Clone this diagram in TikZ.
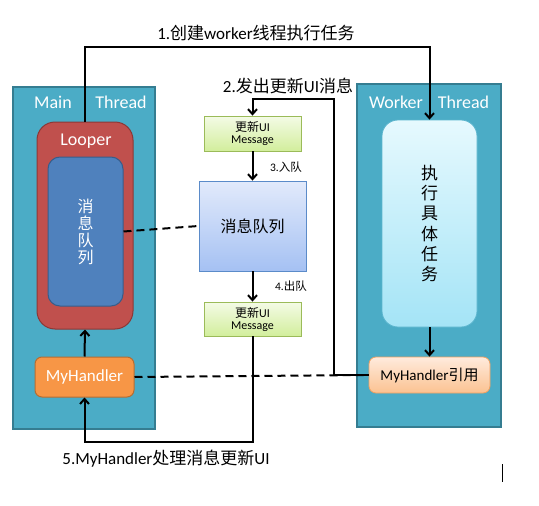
\documentclass[tikz,border=0pt]{standalone}
\usepackage{fontspec}
\setmainfont{Carlito}
\newfontfamily\cjk{Noto Sans CJK SC}
\usetikzlibrary{arrows.meta,calc}
\definecolor{threadfill}{HTML}{4BACC6}
\definecolor{threaddraw}{HTML}{357D91}
\definecolor{loopfill}{HTML}{C0504D}
\definecolor{loopdraw}{HTML}{8C3836}
\definecolor{qfill}{HTML}{4F81BD}
\definecolor{qdraw}{HTML}{385D8A}
\definecolor{hfill}{HTML}{F79646}
\definecolor{hdraw}{HTML}{B66D31}
\definecolor{msgtop}{HTML}{F4FBE6}
\definecolor{msgbot}{HTML}{D2EE9C}
\definecolor{msgdraw}{HTML}{9BBB59}
\definecolor{queuetop}{HTML}{E2EAFB}
\definecolor{queuebot}{HTML}{A5C1F3}
\definecolor{queuedraw}{HTML}{5B8BC9}
\definecolor{wtop}{HTML}{E6F9FE}
\definecolor{wbot}{HTML}{A4E4F6}
\definecolor{wdraw}{HTML}{5BB5CE}
\definecolor{reftop}{HTML}{FFEBDD}
\definecolor{refbot}{HTML}{FBC291}
\definecolor{refdraw}{HTML}{F0A060}
\begin{document}
\begin{tikzpicture}[x=1pt,y=-1pt,
  sz/.style 2 args={minimum width=#1pt,minimum height=#2pt,inner sep=0pt},
  threadbox/.style={draw=threaddraw,fill=threadfill,line width=1.2pt},
  looperbox/.style={draw=loopdraw,fill=loopfill,line width=1pt,rounded corners=18pt},
  innerq/.style={draw=qdraw,fill=qfill,line width=1pt,rounded corners=12pt},
  handlerbox/.style={draw=hdraw,fill=hfill,line width=1pt,rounded corners=7pt},
  msgbox/.style={draw=msgdraw,top color=msgtop,bottom color=msgbot,line width=0.8pt,align=center,font=\fontsize{12}{13}\selectfont},
  queuebox/.style={draw=queuedraw,top color=queuetop,bottom color=queuebot,line width=0.8pt},
  taskbox/.style={draw=wdraw,top color=wtop,bottom color=wbot,line width=0.8pt,rounded corners=16pt},
  refbox/.style={draw=refdraw,top color=reftop,bottom color=refbot,line width=0.8pt,rounded corners=7pt},
  whitelbl/.style={text=white,inner sep=0pt,font=\fontsize{18}{20}\selectfont},
  steplbl/.style={inner sep=0pt,font=\fontsize{17}{19}\selectfont},
  smalllbl/.style={inner sep=0pt,font=\fontsize{11.5}{13}\selectfont},
  arr/.style={line width=2pt,-{Straight Barb[length=5pt,width=9pt]}},
  dsh/.style={line width=2pt,dash pattern=on 8pt off 5pt}]
\useasboundingbox (0,0) rectangle (539,506);
% outer thread boxes
\node[threadbox,sz={142}{342}] (main) at (84,258) {};
\node[threadbox,sz={144}{343}] (worker) at (429,255.5) {};
\node[whitelbl] (mainlbl) at (53,102) {Main};
\node[whitelbl] (mainlbl2) at (121,102) {Thread};
\node[whitelbl] (wlbl) at (396,102) {Worker};
\node[whitelbl] (wlbl2) at (463.5,102) {Thread};
% main thread content
\node[looperbox,sz={96}{207}] (looper) at (85,225.5) {};
\node[whitelbl] (looperlbl) at (86,141) {Looper};
\node[innerq,sz={75}{149},text=white,align=center,font=\cjk\fontsize{16}{17}\selectfont] (mq) at (85.5,231.5) {消\\息\\队\\列};
\node[handlerbox,sz={99}{40},text=white,font=\fontsize{17}{19}\selectfont] (mh) at (84.5,377) {MyHandler};
% middle column
\node[msgbox,sz={97}{35}] (msg1) at (252.5,133.5) {{\cjk 更新}UI\\[-1pt]Message};
\node[queuebox,sz={107}{90},font=\cjk\fontsize{16}{18}\selectfont] (queue) at (252.5,226) {消息队列};
\node[msgbox,sz={97}{34}] (msg2) at (252.5,319) {{\cjk 更新}UI\\[-1pt]Message};
% worker content
\node[taskbox,sz={95}{207},align=center,font=\cjk\fontsize{17}{20.2}\selectfont] (task) at (429.5,223.5) {执\\行\\具\\体\\任\\务};
\node[refbox,sz={121}{36},font=\fontsize{15}{17}\selectfont] (mhref) at (429.5,375) {MyHandler{\cjk 引用}};
% labels
\node[steplbl] (l1) at (256,33) {1.{\cjk 创建}worker{\cjk 线程执行任务}};
\node[steplbl] (l2) at (288,86) {2.{\cjk 发出更新}UI{\cjk 消息}};
\node[smalllbl] (l3) at (286,167) {3.{\cjk 入队}};
\node[smalllbl] (l4) at (291,286) {4.{\cjk 出队}};
\node[steplbl] (l5) at (166,459) {5.MyHandler{\cjk 处理消息更新}UI};
% dashed links
\draw[dsh] (mq.east) -- (queue.west);
\draw[dsh] (mh.east) -- (mhref.west);
% arrows
\draw[arr] (looper.north) -- ++(0,-75) -| (task.north);
\draw[arr] (mhref.west) -- ++(-35,0) |- ($(msg1.north)+(0,-17)$) -- (msg1.north);
\draw[arr] (msg1.south) -- (queue.north);
\draw[arr] (queue.south) -- (msg2.north);
\draw[arr] (msg2.south) -- ++(0,106) -| (mh.south);
\draw[arr] (mh.north) -- (looper.south);
\draw[arr] (task.south) -- (mhref.north);
% stray cursor mark
\coordinate (c1) at (502,464);
\coordinate (c2) at (502,482);
\draw[line width=0.9pt] (c1) -- (c2);
\end{tikzpicture}
\end{document}
